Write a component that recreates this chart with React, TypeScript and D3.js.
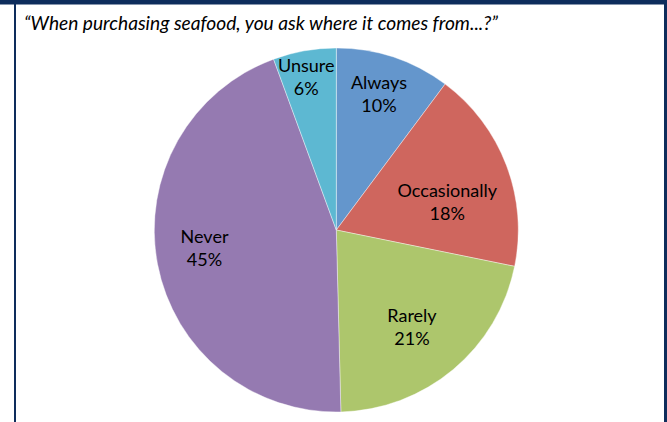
import React from "react";
import * as d3 from "d3";

const categories = ["Always", "Occasionally", "Rarely", "Never", "Unsure"];
const values = [10.2, 18.0, 21.4, 44.8, 5.6];
const colors = ["#6496CC", "#CF665E", "#ADC66C", "#957AB1", "#5DB8D2"];
// [radius fraction, angle offset (deg)] for label placement
const labelPlacement: [number, number][] = [
  [0.79, -1.1],
  [0.63, 6.3],
  [0.67, 1.6],
  [0.73, 3.5],
  [0.86, -1],
];
const title = "\u201CWhen purchasing seafood, you ask where it comes from...?\u201D";

const W = 667;
const H = 422;
const cx = 336.3;
const cy = 230;
const R = 182;
const navy = "#0E2D5C";

export default function App() {
  const total = d3.sum(values);
  const pie = d3
    .pie<number>()
    .sort(null)
    .value((d) => d)
    .startAngle(0)
    .endAngle(2 * Math.PI);
  const arcs = pie(values);
  const arc = d3.arc<d3.PieArcDatum<number>>().innerRadius(0).outerRadius(R);
  const fmt = (v: number) => Math.round((v / total) * 100) + "%";

  return (
    <svg
      width={W}
      height={H}
      style={{ position: "absolute", left: 0, top: 0, background: "#fff" }}
    >
      <rect x={0} y={0} width={W} height={H} fill="#fff" />
      <rect x={0} y={0} width={W} height={4.5} fill={navy} />
      <rect x={14} y={0} width={2} height={H} fill={navy} />
      <rect x={664} y={0} width={3} height={H} fill={navy} />
      <text
        x={24}
        y={30}
        fontFamily="Lato, 'Open Sans', sans-serif"
        fontStyle="italic"
        fontSize={18.5}
        textLength={474}
        lengthAdjust="spacingAndGlyphs"
        fill="#000"
      >
        {title}
      </text>
      <g transform={`translate(${cx},${cy})`}>
        {arcs.map((a, i) => (
          <path
            key={categories[i]}
            d={arc(a) || ""}
            fill={colors[i]}
            stroke="#ffffff"
            strokeOpacity={0.5}
            strokeWidth={0.8}
          />
        ))}
        {arcs.map((a, i) => {
          const [frac, off] = labelPlacement[i];
          const ang = (a.startAngle + a.endAngle) / 2 + (off * Math.PI) / 180;
          const r = R * frac;
          const x = Math.sin(ang) * r;
          const y = -Math.cos(ang) * r;
          return (
            <text
              key={"l" + categories[i]}
              textAnchor="middle"
              fontFamily="Lato, 'Open Sans', sans-serif"
              fontSize={18}
              fill="#000"
            >
              <tspan x={x} y={y - 4}>
                {categories[i]}
              </tspan>
              <tspan x={x} y={y + 19}>
                {fmt(values[i])}
              </tspan>
            </text>
          );
        })}
      </g>
    </svg>
  );
}
